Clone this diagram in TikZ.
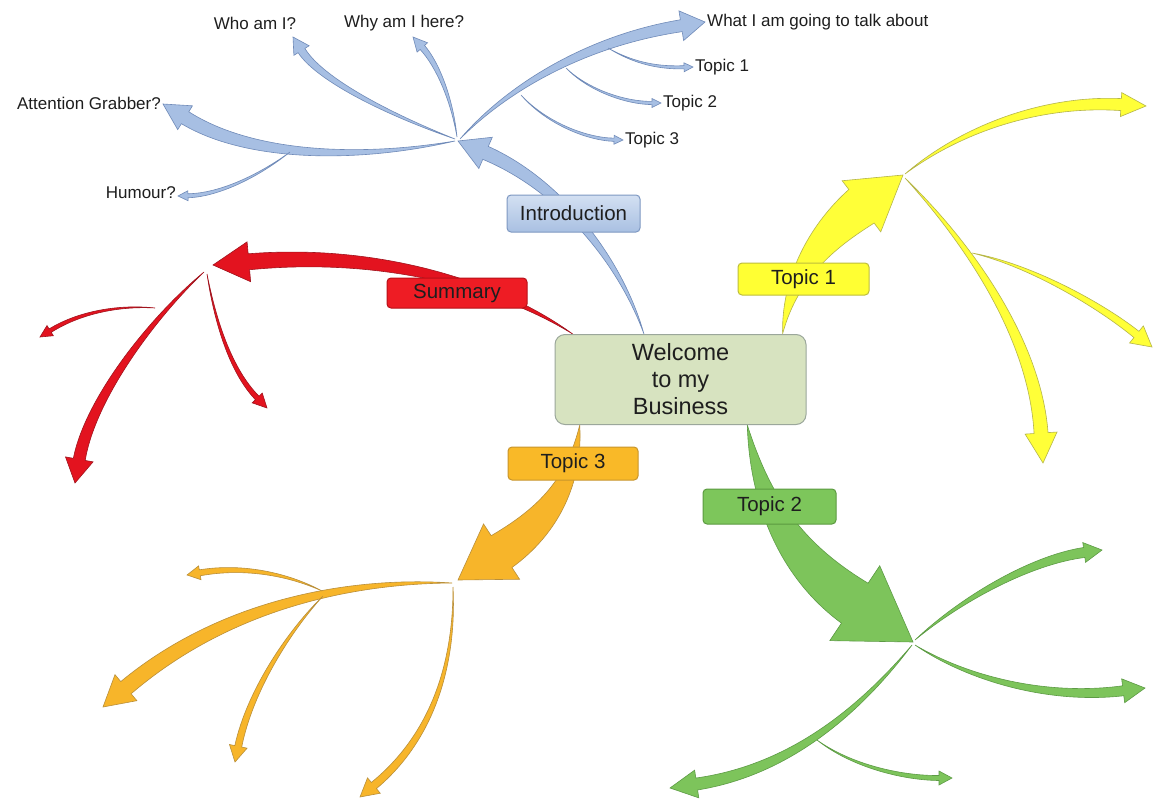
\documentclass[tikz,border=0pt]{standalone}
\usepackage{fontspec}
\setmainfont{Liberation Sans}
\usetikzlibrary{calc}
\definecolor{txt}{HTML}{1E1E1E}
\definecolor{blueF}{HTML}{A7BFE3}
\definecolor{blueD}{HTML}{6F8AB8}
\definecolor{yelF}{HTML}{FFFF38}
\definecolor{yelD}{HTML}{B5B54A}
\definecolor{redF}{HTML}{E3131F}
\definecolor{redD}{HTML}{A0141E}
\definecolor{oraF}{HTML}{F7B52A}
\definecolor{oraD}{HTML}{B98F3A}
\definecolor{grnF}{HTML}{7DC45B}
\definecolor{grnD}{HTML}{5D9B45}
\definecolor{cenF}{HTML}{D7E3C0}
\definecolor{cenD}{HTML}{9BA79B}
\definecolor{introT}{HTML}{D3E0F2}
\definecolor{introB}{HTML}{A9C0E2}
\definecolor{introD}{HTML}{7E98C2}
\definecolor{tyF}{HTML}{FFFF33}
\definecolor{tyD}{HTML}{BDBD3C}
\definecolor{trF}{HTML}{EE1C24}
\definecolor{trD}{HTML}{B81018}
\definecolor{toF}{HTML}{F9B928}
\definecolor{toD}{HTML}{C8952C}
\definecolor{tgF}{HTML}{7DC65B}
\definecolor{tgD}{HTML}{5B9A40}
\pgfdeclarelayer{arrowlayer}
\pgfsetlayers{arrowlayer,main}
% tapered arrow: [style]{start}{ctrl1}{ctrl2}{tip}{shaft half width}{head half width}{head length}
\newcommand{\tarrow}[8][]{%
  \pgfmathsetmacro\tpa{#6*0.45}%
  \pgfmathsetmacro\tpb{#6*0.85}%
  \path ($(#5)!#8pt!(#4)$) coordinate (tB)
        ($(#3)+(#4)-(#2)$) coordinate (tD);
  \path ($(tB)!#6pt!90:(#5)$) coordinate (tBL)
        ($(tB)!#6pt!-90:(#5)$) coordinate (tBR)
        ($(tB)!#7pt!90:(#5)$) coordinate (tHL)
        ($(tB)!#7pt!-90:(#5)$) coordinate (tHR)
        ($(#3)!\tpa pt!90:(tD)$) coordinate (tCAL)
        ($(#3)!\tpa pt!-90:(tD)$) coordinate (tCAR)
        ($(#4)!\tpb pt!90:(#5)$) coordinate (tCBL)
        ($(#4)!\tpb pt!-90:(#5)$) coordinate (tCBR);
  \filldraw[#1] (#2) .. controls (tCAL) and (tCBL) .. (tBL) -- (tHL) -- (#5)
     -- (tHR) -- (tBR) .. controls (tCBR) and (tCAR) .. (#2) -- cycle;
}
\begin{document}
\begin{tikzpicture}[x=1pt,y=-1pt,
  lab/.style={font=\fontsize{17}{20}\selectfont, text=txt, inner sep=0pt},
  box/.style={rounded corners=4pt, line width=1pt, inner sep=0pt,
              font=\fontsize{20.5}{24}\selectfont, text=txt},
  blueA/.style={fill=blueF, draw=blueD, line width=0.6pt},
  yelA/.style={fill=yelF, draw=yelD, line width=0.6pt},
  redA/.style={fill=redF, draw=redD, line width=0.6pt},
  oraA/.style={fill=oraF, draw=oraD, line width=0.6pt},
  grnA/.style={fill=grnF, draw=grnD, line width=0.6pt}]
\useasboundingbox (0,0) rectangle (1153,800);

% boxes
\node[box, fill=cenF, draw=cenD, rounded corners=10pt, minimum width=251pt,
      minimum height=90pt, align=center, font=\fontsize{23.5}{27}\selectfont]
      (wel) at (680.5,379.5) {Welcome\\to my\\Business};
\node[box, top color=introT, bottom color=introB, draw=introD,
      minimum width=133pt, minimum height=37pt] (intro) at (573.5,213.5) {Introduction};
\node[box, fill=tyF, draw=tyD, minimum width=131pt, minimum height=32pt] (t1) at (803.5,279) {Topic 1};
\node[box, fill=trF, draw=trD, minimum width=140pt, minimum height=30pt] (sum) at (457,293) {Summary};
\node[box, fill=toF, draw=toD, minimum width=130pt, minimum height=33pt] (t3) at (573,463.5) {Topic 3};
\node[box, fill=tgF, draw=tgD, minimum width=133pt, minimum height=35pt] (t2) at (769.5,506.5) {Topic 2};

% labels
\node[lab] (who) at (255,23) {Who am I?};
\node[lab] (why) at (404,23) {Why am I here?};
\node[lab, anchor=west] (what) at (707,22) {What I am going to talk about};
\node[lab, anchor=west] (st1) at (695,67) {Topic 1};
\node[lab, anchor=west] (st2) at (663,103) {Topic 2};
\node[lab, anchor=west] (st3) at (625,140) {Topic 3};
\node[lab, anchor=east] (att) at (161,103) {Attention Grabber?};
\node[lab, anchor=east] (hum) at (176,193) {Humour?};

% hubs and ends
\coordinate (hubI) at (458,141);
\coordinate (hubY) at (903,175);
\coordinate (hubR) at (213,265);
\coordinate (hubRb) at (204,272);
\coordinate (hubO) at (458,580);
\coordinate (hubOb) at (452,583);
\coordinate (hubG) at (913,642);
\coordinate (sI) at ($(wel.north west)!0.355!(wel.north east)$);
\coordinate (sY) at ($(wel.north west)!0.905!(wel.north east)$);
\coordinate (sR) at ($(wel.north west)!0.072!(wel.north east)$);
\coordinate (sO) at ($(wel.south west)!0.10!(wel.south east)$);
\coordinate (sG) at ($(wel.south west)!0.765!(wel.south east)$);
\coordinate (eWhat) at (705,22);
\coordinate (eT1) at (693,67);
\coordinate (eT2) at (661,103);
\coordinate (eT3) at (623,140);
\coordinate (eWho) at (293,37);
\coordinate (eWhy) at (413,37);
\coordinate (eAtt) at (163,104);
\coordinate (eHum) at (178,196);

\begin{pgfonlayer}{arrowlayer}
\fill[white] (0,0) rectangle (1153,800);
% Introduction
\tarrow[blueA]{sI}{620,260}{560,185}{hubI}{7}{17}{30}
\tarrow[blueA]{460,139}{510,85}{590,40}{eWhat}{6}{15}{24}
\tarrow[blueA]{608,48}{635,64}{660,68}{eT1}{1.6}{4.5}{9}
\tarrow[blueA]{566,68}{588,90}{625,103}{eT2}{1.6}{4.5}{9}
\tarrow[blueA]{521,95}{545,122}{585,139}{eT3}{1.6}{4.5}{9}
\tarrow[blueA]{455,139}{390,115}{320,80}{eWho}{4}{9}{16}
\tarrow[blueA]{457,137}{452,100}{438,65}{eWhy}{3}{7}{14}
\tarrow[blueA]{455,141}{360,160}{250,158}{eAtt}{7}{14}{26}
\tarrow[blueA]{290,152}{260,175}{220,195}{eHum}{2}{5}{10}
% Topic 1
\tarrow[yelA]{sY}{790,270}{830,230}{hubY}{21}{32}{52}
\tarrow[yelA]{905,174}{960,130}{1040,100}{1146,106}{6}{12}{25}
\tarrow[yelA]{905,178}{970,245}{1035,340}{1043,463}{7}{16}{30}
\tarrow[yelA]{972,253}{1030,265}{1100,305}{1152,347}{4}{11}{20}
% Summary
\tarrow[redA]{sR}{500,285}{380,250}{hubR}{8}{20}{36}
\tarrow[redA]{hubRb}{150,320}{90,400}{75,483}{6}{14}{24}
\tarrow[redA]{155,308}{120,305}{80,312}{40,337}{2}{6}{12}
\tarrow[redA]{207,274}{215,320}{230,370}{267,408}{2.5}{7}{14}
% Topic 3
\tarrow[oraA]{sO}{575,480}{550,520}{hubO}{19}{33}{52}
\tarrow[oraA]{hubOb}{360,580}{230,600}{103,707}{8}{17}{30}
\tarrow[oraA]{322,591}{290,575}{245,565}{187,575}{3}{7}{13}
\tarrow[oraA]{323,596}{290,630}{250,690}{235,762}{3.5}{9}{16}
\tarrow[oraA]{453,587}{455,660}{435,735}{360,797}{4}{10}{18}
% Topic 2
\tarrow[grnA]{sG}{760,500}{790,560}{hubG}{24}{45}{70}
\tarrow[grnA]{915,640}{960,600}{1030,560}{1102,550}{5}{10}{18}
\tarrow[grnA]{915,645}{970,680}{1050,700}{1145,688}{5}{12}{22}
\tarrow[grnA]{912,645}{860,710}{790,770}{670,788}{6}{14}{27}
\tarrow[grnA]{817,740}{850,765}{900,778}{952,778}{2.5}{7}{13}
\end{pgfonlayer}
\end{tikzpicture}
\end{document}
